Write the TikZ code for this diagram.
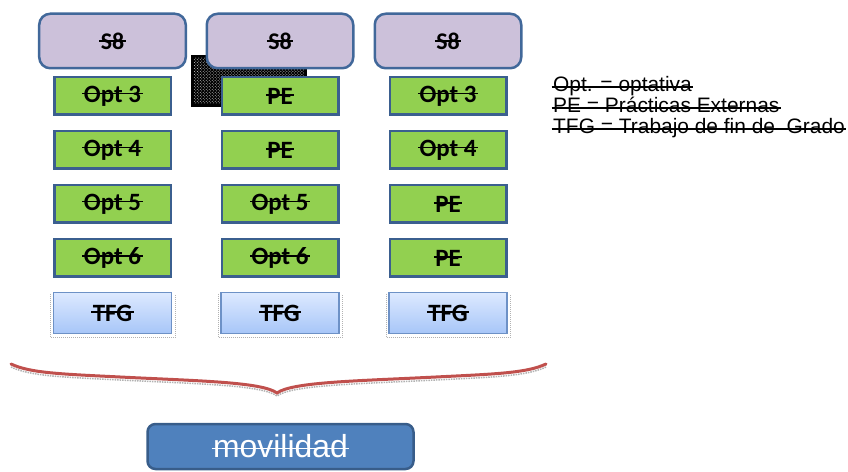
\documentclass[tikz,border=0pt]{standalone}
\usepackage{fontspec}
\setmainfont{Liberation Sans}
\newfontfamily\etiqueta{Carlito}
\usetikzlibrary{patterns}

% texto tachado: [altura de la raya]{texto}
\newlength\grosortachado
\setlength\grosortachado{1.8bp}
\newcommand\tachar[2][0.65ex]{\begingroup\setbox0\hbox{#2}%
    \leavevmode\rlap{\kern-1.5bp\rule[#1]{\dimexpr\wd0+3bp\relax}{\grosortachado}}\box0\endgroup}

\definecolor{lila}{HTML}{CCC1DA}
\definecolor{bordeazul}{HTML}{41689A}
\definecolor{verde}{HTML}{92D050}
\definecolor{bordeverde}{HTML}{3B5F8F}
\definecolor{tfgarriba}{HTML}{DDE9FF}
\definecolor{tfgabajo}{HTML}{A7C6F8}
\definecolor{bordetfg}{HTML}{6D91C6}
\definecolor{llave}{HTML}{C0504D}
\definecolor{movfondo}{HTML}{4F81BD}
\definecolor{movborde}{HTML}{385D8A}

\begin{document}
\begin{tikzpicture}[
        x=1bp, y=-1bp,
        % --- estilos ---
        sem/.style={draw=bordeazul, fill=lila, line width=2.5bp, rounded corners=11bp,
            minimum width=146.5bp, minimum height=54.5bp, inner sep=0pt,
            font=\etiqueta\bfseries\fontsize{24}{26}\selectfont},
        asig/.style={draw=bordeverde, fill=verde, line width=2.5bp,
            minimum width=116.5bp, minimum height=37.5bp, inner sep=0pt,
            font=\etiqueta\bfseries\fontsize{25}{27}\selectfont},
        tfg/.style={draw=bordetfg, top color=tfgarriba, bottom color=tfgabajo, line width=1.5bp,
            minimum width=118bp, minimum height=41bp, inner sep=0pt,
            font=\etiqueta\bfseries\fontsize{25}{27}\selectfont},
        sombra/.style={gray!60, densely dotted, line width=1bp},
        leyenda/.style={anchor=base west, inner sep=0pt,
            font=\fontsize{21}{22}\selectfont\setlength\grosortachado{1.3bp}},
        mov/.style={draw=movborde, fill=movfondo, line width=2.5bp, rounded corners=8bp,
            minimum width=266bp, minimum height=45bp, inner sep=0pt, text=white,
            font=\fontsize{32}{34}\selectfont}
        % --------------------
    ]
    \useasboundingbox (0,0) rectangle (848,472);

    % imagen rota (rectangulo negro)
    \fill[black] (191,55) rectangle (307,107);
    \fill[pattern=crosshatch dots, pattern color=gray!35!white] (194,58) rectangle (304,104);

    % --- columna 1 ---
    \node[sem]  (s8a)   at (112.5,41)  {\tachar{S8}};
    \node[asig] (opt3a) at (112.5,96)  {\tachar{Opt 3}};
    \node[asig] (opt4a) at (112.5,150) {\tachar{Opt 4}};
    \node[asig] (opt5a) at (112.5,204) {\tachar{Opt 5}};
    \node[asig] (opt6a) at (112.5,258) {\tachar{Opt 6}};
    \node[tfg]  (tfga)  at (112.5,313) {\tachar{TFG}};

    % --- columna 2 ---
    \node[sem]  (s8b)   at (280,41)  {\tachar{S8}};
    \node[asig] (peb1)  at (280,96)  {\tachar{PE}};
    \node[asig] (peb2)  at (280,150) {\tachar{PE}};
    \node[asig] (opt5b) at (280,204) {\tachar{Opt 5}};
    \node[asig] (opt6b) at (280,258) {\tachar{Opt 6}};
    \node[tfg]  (tfgb)  at (280,313) {\tachar{TFG}};

    % --- columna 3 ---
    \node[sem]  (s8c)   at (448,41)  {\tachar{S8}};
    \node[asig] (opt3c) at (448,96)  {\tachar{Opt 3}};
    \node[asig] (opt4c) at (448,150) {\tachar{Opt 4}};
    \node[asig] (pec1)  at (448,204) {\tachar{PE}\hspace{20bp}};
    \node[asig] (pec2)  at (448,258) {\tachar{PE}\hspace{20bp}};
    \node[tfg]  (tfgc)  at (448,313) {\tachar{TFG}};

    % sombras punteadas de los TFG
    \draw[sombra] ([shift={(-2,2)}]tfga.north west) -- ([shift={(-2,3)}]tfga.south west) -- ([shift={(3,3)}]tfga.south east) -- ([shift={(3,2)}]tfga.north east);
    \draw[sombra] ([shift={(-2,2)}]tfgb.north west) -- ([shift={(-2,3)}]tfgb.south west) -- ([shift={(3,3)}]tfgb.south east) -- ([shift={(3,2)}]tfgb.north east);
    \draw[sombra] ([shift={(-2,2)}]tfgc.north west) -- ([shift={(-2,3)}]tfgc.south west) -- ([shift={(3,3)}]tfgc.south east) -- ([shift={(3,2)}]tfgc.north east);

    % leyenda
    \node[leyenda] (leg1) at (553,92)  {\tachar[0.4ex]{Opt. = optativa}};
    \node[leyenda] (leg2) at (553,113) {\tachar[0.4ex]{PE = Prácticas Externas}};
    \node[leyenda] (leg3) at (553,134) {\tachar[0.4ex]{TFG = Trabajo de fin de\ \ Grado}};

    % llave (sombra y trazo)
    \draw[sombra, line width=1.5bp, yshift=-3bp]
        (11,364) .. controls (30,373) and (60,374) .. (120,377)
        .. controls (200,381) and (262,382) .. (277,393)
        .. controls (292,382) and (356,381) .. (436,377)
        .. controls (496,374) and (527,373) .. (546,364);
    \draw[llave, line width=3bp, line cap=round]
        (11,364) .. controls (30,373) and (60,374) .. (120,377)
        .. controls (200,381) and (262,382) .. (277,393)
        .. controls (292,382) and (356,381) .. (436,377)
        .. controls (496,374) and (527,373) .. (546,364);

    \node[mov] (movil) at (280.5,446.5) {\tachar[0.5ex]{movilidad}};
\end{tikzpicture}
\end{document}
